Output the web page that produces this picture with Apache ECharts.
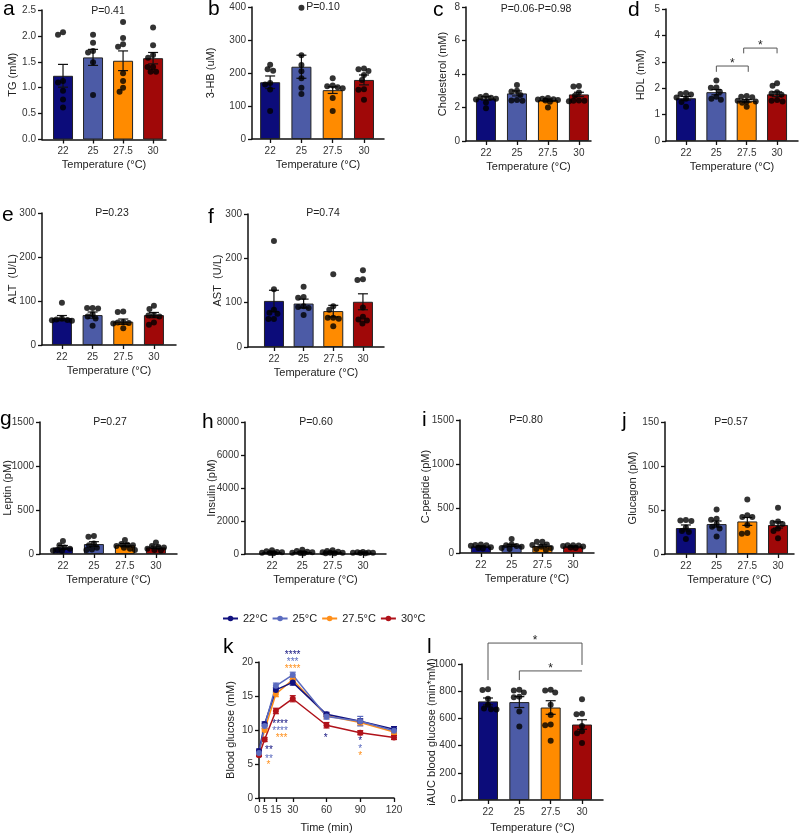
<!DOCTYPE html>
<html><head><meta charset="utf-8">
<script src="https://cdn.jsdelivr.net/npm/echarts@6/dist/echarts.min.js"></script>
<style>html,body{margin:0;padding:0;background:#fff}#c{width:799px;height:834px}</style>
</head><body><div id="c"></div>
<script>
// ---------- DATA ----------
const categories = ['22', '25', '27.5', '30'];
const seriesNames = ['22°C', '25°C', '27.5°C', '30°C'];

// a: TG (mM)
const tgMean = [1.23, 1.585, 1.52, 1.57];
const tgSem = [0.22, 0.155, 0.19, 0.11];
const tgPoints = [[2.07, 2.02, 1.13, 1.10, 0.94, 0.77, 0.62], [2.02, 1.87, 1.71, 1.68, 1.49, 0.86], [2.27, 1.96, 1.84, 1.79, 1.28, 1.13, 1.0, 0.92], [2.16, 1.82, 1.63, 1.58, 1.40, 1.40, 1.31, 1.31]];
// b: 3-HB (uM)
const hbMean = [172, 219, 148, 179];
const hbSem = [19, 35, 10, 15];
const hbPoints = [[225, 211, 207, 170, 165, 150, 85], [398, 254, 224, 205, 184, 155, 136], [184, 162, 160, 157, 154, 124, 85], [214, 211, 206, 194, 179, 151, 149, 119]];
// c: Cholesterol (mM)
const cholMean = [2.54, 2.84, 2.44, 2.78];
const cholSem = [0.1, 0.15, 0.07, 0.13];
const cholPoints = [[2.7, 2.62, 2.58, 2.52, 2.48, 2.3, 1.95], [3.34, 3.0, 2.95, 2.75, 2.45, 2.42, 2.4], [2.56, 2.52, 2.5, 2.48, 2.45, 2.42, 2.35, 2.0], [3.28, 3.26, 2.9, 2.7, 2.42, 2.4, 2.4, 2.38]];
// d: HDL (mM)
const hdlMean = [1.62, 1.85, 1.52, 1.77];
const hdlSem = [0.07, 0.1, 0.05, 0.09];
const hdlPoints = [[1.82, 1.78, 1.76, 1.65, 1.6, 1.48, 1.3], [2.29, 2.03, 2.02, 1.87, 1.68, 1.6, 1.56], [1.7, 1.68, 1.66, 1.52, 1.5, 1.5, 1.45, 1.3], [2.19, 2.09, 1.85, 1.8, 1.75, 1.55, 1.52, 1.5]];
const hdlBrackets = [[1, 2.05, 2.84, 2.62, 2.62], [1.9, 3, 3.52, 3.32, 3.32]];
// e: ALT (U/L)
const altMean = [61, 68, 53, 68];
const altSem = [6, 7, 6, 6];
const altPoints = [[96, 60, 58, 57, 56, 55], [84, 84, 83, 70, 65, 60, 44], [76, 75, 52, 51, 50, 49, 38], [89, 82, 68, 67, 65, 51, 46]];
// f: AST (U/L)
const astMean = [104, 98, 81, 102];
const astSem = [24, 10, 13, 18];
const astPoints = [[239, 130, 84, 77, 75, 63, 63], [136, 113, 111, 92, 90, 88, 72], [164, 92, 84, 66, 66, 64, 47], [173, 153, 151, 89, 68, 62, 60, 53]];
// g: Leptin (pM)
const leptinMean = [75, 113, 100, 75];
const leptinSem = [22, 27, 18, 14];
const leptinPoints = [[147, 100, 75, 60, 45, 40, 35], [204, 196, 120, 100, 70, 50, 45], [159, 115, 105, 100, 90, 70, 60, 45], [132, 90, 80, 75, 60, 45, 40]];
// h: Insulin (pM)
const insulinMean = [110, 120, 110, 80];
const insulinSem = [22, 28, 20, 10];
const insulinPoints = [[230, 160, 120, 100, 80, 60, 50], [260, 180, 130, 100, 80, 60, 40], [220, 180, 140, 100, 80, 70, 50, 40], [120, 100, 90, 80, 70, 60, 50]];
// i: C-peptide (pM)
const cpepMean = [75, 86, 80, 75];
const cpepSem = [6, 12, 12, 5];
const cpepPoints = [[95, 90, 86, 82, 65, 55, 50], [158, 95, 86, 78, 70, 55, 45], [128, 126, 95, 90, 70, 55, 45, 35], [88, 86, 84, 80, 72, 62, 55]];
// j: Glucagon (pM)
const glucagonMean = [29.5, 34, 37, 33];
const glucagonSem = [3.5, 3.5, 4.5, 3.5];
const glucagonPoints = [[38.5, 38, 37.5, 30, 26, 25, 17], [50.6, 40, 39, 34, 31, 29, 20], [62, 44, 42, 42, 33, 24, 23], [52.5, 37, 35.5, 34, 29, 26, 18]];
// k: glucose tolerance
const timePoints = [0, 5, 15, 30, 60, 90, 120];
const timeTicks = [0, 5, 15, 30, 60, 90, 120];
const glucose22 = [6.9, 10.9, 15.9, 17.0, 12.3, 11.3, 10.1];
const glucose25 = [6.6, 10.6, 16.5, 18.1, 12.0, 11.3, 9.9];
const glucose275 = [6.7, 10.0, 15.3, 17.4, 12.1, 11.1, 9.7];
const glucose30 = [6.3, 8.6, 12.8, 14.6, 10.7, 9.6, 8.9];
const glucoseSem22 = [0.3, 0.3, 0.35, 0.4, 0.3, 0.35, 0.4];
const glucoseSem25 = [0.25, 0.4, 0.4, 0.4, 0.4, 0.7, 0.4];
const glucoseSem275 = [0.3, 0.3, 0.4, 0.4, 0.35, 0.4, 0.35];
const glucoseSem30 = [0.2, 0.3, 0.4, 0.45, 0.4, 0.3, 0.3];
// significance stars: [time, glucose level, number of stars]
const stars22 = [[8.9, 7.3, 2], [18.7, 11.2, 4], [29.9, 21.3, 4], [59.3, 9.1, 1], [90, 8.6, 1]];
const stars25 = [[8.9, 6.05, 2], [18.7, 10.15, 4], [29.9, 20.3, 3], [90, 7.45, 1]];
const stars275 = [[8.3, 5.1, 1], [20.1, 9.1, 3], [29.9, 19.3, 4], [90, 6.4, 1]];
// l: iAUC
const iaucMean = [725, 720, 680, 555];
const iaucSem = [25, 40, 50, 35];
const iaucPoints = [[815, 808, 745, 700, 672, 668, 665], [810, 805, 790, 760, 755, 650, 540], [810, 805, 790, 700, 625, 555, 550, 435], [740, 635, 630, 545, 505, 490, 420]];
const iaucBrackets = [[0, 3, 1154, 882, 993], [1, 3, 949, 882, 949]];

// ---------- STYLE ----------
const FF = '"Liberation Sans", Arial, Helvetica, sans-serif';
const barColors = ['#0c0c7a', '#4c5ba6', '#ff8b00', '#a00808'];
const lineColors = ['#12127f', '#5b6bbf', '#ff8f1a', '#b0121a'];
const AX = '#111';
const TICK_FS = 10;

const grids = [], xAxes = [], yAxes = [], series = [], graphics = [];

// beeswarm-style horizontal spread of the dots (layout only)
function swarmOffsets(vals, pxPerX, pxPerY, d, maxS) {
  const placed = [], out = [];
  vals.forEach(v => {
    const py = v * pxPerY;
    let best = 0, bestScore = -1;
    const nSteps = Math.floor(maxS / 0.5);
    for (let k = 0; k <= 2 * nSteps; k++) {
      const cand = (k % 2 === 0 ? 1 : -1) * Math.ceil(k / 2) * 0.5;
      let minD = Infinity;
      for (const p of placed) {
        const dx = cand - p[0], dy = py - p[1];
        minD = Math.min(minD, Math.sqrt(dx * dx + dy * dy));
      }
      if (minD >= d) { best = cand; bestScore = Infinity; break; }
      if (minD > bestScore + 0.01) { bestScore = minD; best = cand; }
    }
    placed.push([best, py]);
    out.push(best / pxPerX);
  });
  return out;
}

function errRender(color, cap) {
  return function (params, api) {
    const x = api.value(0), m = api.value(1), e = api.value(2);
    const t = api.coord([x, m + e]), b = api.coord([x, m - e]);
    const st = { stroke: color, lineWidth: 1.2 };
    return { type: 'group', children: [
      { type: 'line', shape: { x1: t[0], y1: t[1], x2: b[0], y2: b[1] }, style: st },
      { type: 'line', shape: { x1: t[0] - cap, y1: t[1], x2: t[0] + cap, y2: t[1] }, style: st },
      { type: 'line', shape: { x1: b[0] - cap, y1: b[1], x2: b[0] + cap, y2: b[1] }, style: st }
    ] };
  };
}

function bracketRender(params, api) {
  const x1 = api.value(0), x2 = api.value(1), y = api.value(2), l1 = api.value(3), l2 = api.value(4);
  const a = api.coord([x1, l1]), b = api.coord([x1, y]), c = api.coord([x2, y]), d = api.coord([x2, l2]);
  return { type: 'group', children: [
    { type: 'polyline', shape: { points: [a, b, c, d] }, style: { stroke: '#555', lineWidth: 1, fill: 'none' } },
    { type: 'text', style: { text: '*', x: (b[0] + c[0]) / 2, y: b[1] + 4, align: 'center', verticalAlign: 'bottom', font: '12px ' + FF, fill: '#222' } }
  ] };
}

function starRender(color) {
  return function (params, api) {
    const p = api.coord([api.value(0), api.value(1)]);
    const n = api.value(2);
    return { type: 'text', style: { text: '*'.repeat(n), x: p[0], y: p[1] + 2, align: 'center', verticalAlign: 'middle', font: '10px ' + FF, fill: color } };
  };
}

function axisCommon() {
  return {
    axisLine: { show: true, onZero: false, lineStyle: { color: AX, width: 1.5 } },
    axisTick: { show: true, length: 4, lineStyle: { color: AX, width: 1.3 } },
    splitLine: { show: false },
    nameMoveOverlap: false,
    nameTextStyle: { fontSize: 11, color: '#222', fontFamily: FF }
  };
}

function addGrid(L) {
  grids.push({ left: L.left, top: L.top, width: L.width, height: L.height, containLabel: false, outerBoundsMode: 'none' });
  return grids.length - 1;
}

function addBarPanel(L, p) {
  const gi = addGrid(L);
  xAxes.push(Object.assign(axisCommon(), {
    gridIndex: gi, type: 'value', min: L.xmin, max: L.xmax,
    axisTick: { show: true, customValues: [0, 1, 2, 3], length: 4, lineStyle: { color: AX, width: 1.3 } },
    axisLabel: { customValues: [0, 1, 2, 3], formatter: v => categories[Math.round(v)], margin: L.xLabelMargin || 7, fontSize: TICK_FS, color: '#333', fontFamily: FF, hideOverlap: false },
    name: 'Temperature (°C)', nameLocation: 'middle', nameGap: L.xNameGap || 20
  }));
  yAxes.push(Object.assign(axisCommon(), {
    gridIndex: gi, type: 'value', min: 0, max: p.ymax, interval: p.yint,
    axisLabel: { formatter: v => v.toFixed(p.ydec || 0), margin: 6, fontSize: TICK_FS, color: '#333', fontFamily: FF, showMinLabel: true, showMaxLabel: true },
    name: p.yname, nameLocation: 'middle', nameGap: L.yNameGap, nameRotate: 90
  }));
  series.push({
    type: 'bar', xAxisIndex: gi, yAxisIndex: gi, barWidth: 20, silent: true, z: 2,
    itemStyle: { borderColor: '#222', borderWidth: 1 },
    data: p.means.map((m, i) => ({ value: [i, m], itemStyle: { color: barColors[i] } }))
  });
  series.push({
    type: 'custom', xAxisIndex: gi, yAxisIndex: gi, z: 3, silent: true,
    renderItem: errRender('#111', 5), encode: { x: 0, y: 1 },
    data: p.means.map((m, i) => [i, m, p.sem[i]])
  });
  const pxX = L.width / (L.xmax - L.xmin), pxY = L.height / p.ymax;
  const dotData = [];
  p.points.forEach((arr, i) => {
    const off = swarmOffsets(arr, pxX, pxY, 5.2, 10);
    arr.forEach((v, j) => dotData.push([i + off[j], v]));
  });
  series.push({
    type: 'scatter', xAxisIndex: gi, yAxisIndex: gi, z: 4, silent: true, clip: false,
    symbol: 'circle', symbolSize: 6, itemStyle: { color: '#000' }, data: dotData
  });
  if (p.brackets) {
    series.push({
      type: 'custom', xAxisIndex: gi, yAxisIndex: gi, z: 5, silent: true, clip: false,
      renderItem: bracketRender, encode: { x: 0, y: 2 }, data: p.brackets
    });
  }
  return gi;
}

addBarPanel({ left: 42, top: 10, width: 124, height: 129.5, xmin: -0.7, xmax: 3.43, yNameGap: 24 },
  { means: tgMean, sem: tgSem, points: tgPoints, ymax: 2.5, yint: 0.5, ydec: 1, yname: 'TG (mM)' });
addBarPanel({ left: 252, top: 7, width: 132, height: 132, xmin: -0.58, xmax: 3.64, yNameGap: 36 },
  { means: hbMean, sem: hbSem, points: hbPoints, ymax: 400, yint: 100, yname: '3-HB (uM)' });
addBarPanel({ left: 466, top: 7, width: 125, height: 134, xmin: -0.645, xmax: 3.39, yNameGap: 18 },
  { means: cholMean, sem: cholSem, points: cholPoints, ymax: 8, yint: 2, yname: 'Cholesterol (mM)' });
addBarPanel({ left: 666, top: 9, width: 132, height: 132, xmin: -0.66, xmax: 3.69, yNameGap: 20 },
  { means: hdlMean, sem: hdlSem, points: hdlPoints, ymax: 5, yint: 1, yname: 'HDL (mM)', brackets: hdlBrackets });
addBarPanel({ left: 42, top: 213, width: 134, height: 132, xmin: -0.65, xmax: 3.72, yNameGap: 24 },
  { means: altMean, sem: altSem, points: altPoints, ymax: 300, yint: 100, yname: 'ALT  (U/L)' });
addBarPanel({ left: 248, top: 214, width: 136, height: 133, xmin: -0.875, xmax: 3.71, yNameGap: 25 },
  { means: astMean, sem: astSem, points: astPoints, ymax: 300, yint: 100, yname: 'AST  (U/L)' });
addBarPanel({ left: 40, top: 422, width: 137, height: 132, xmin: -0.74, xmax: 3.68, yNameGap: 27 },
  { means: leptinMean, sem: leptinSem, points: leptinPoints, ymax: 1500, yint: 500, yname: 'Leptin (pM)' });
addBarPanel({ left: 245, top: 422, width: 141, height: 132, xmin: -0.89, xmax: 3.76, yNameGap: 28 },
  { means: insulinMean, sem: insulinSem, points: insulinPoints, ymax: 8000, yint: 2000, yname: 'Insulin (pM)' });
addBarPanel({ left: 460, top: 420, width: 134, height: 133, xmin: -0.68, xmax: 3.68, yNameGap: 29 },
  { means: cpepMean, sem: cpepSem, points: cpepPoints, ymax: 1500, yint: 500, yname: 'C-peptide (pM)' });
addBarPanel({ left: 665, top: 422, width: 129, height: 132, xmin: -0.68, xmax: 3.52, yNameGap: 27 },
  { means: glucagonMean, sem: glucagonSem, points: glucagonPoints, ymax: 150, yint: 50, yname: 'Glucagon (pM)' });
addBarPanel({ left: 462, top: 664, width: 141, height: 136, xmin: -0.83, xmax: 3.67, yNameGap: 25, xNameGap: 22, xLabelMargin: 7 },
  { means: iaucMean, sem: iaucSem, points: iaucPoints, ymax: 1000, yint: 200, yname: 'iAUC blood glucose (min*mM)', brackets: iaucBrackets });

// ---------- panel k ----------
const kg = addGrid({ left: 259, top: 662, width: 135, height: 136 });
xAxes.push(Object.assign(axisCommon(), {
  gridIndex: kg, type: 'value', min: 0, max: 120,
  axisTick: { show: true, customValues: timeTicks, length: 4, lineStyle: { color: AX, width: 1.3 } },
  axisLabel: {
    customValues: timeTicks, margin: 7, fontSize: TICK_FS, color: '#333', fontFamily: FF, showMinLabel: true, hideOverlap: false,
    formatter: v => v === 0 ? '{l|0}' : (v === 5 ? '{r|5}' : String(v)),
    rich: { l: { padding: [0, 4, 0, 0], fontSize: TICK_FS, color: '#333', fontFamily: FF }, r: { padding: [0, 0, 0, 1], fontSize: TICK_FS, color: '#333', fontFamily: FF } }
  },
  name: 'Time (min)', nameLocation: 'middle', nameGap: 24
}));
yAxes.push(Object.assign(axisCommon(), {
  gridIndex: kg, type: 'value', min: 0, max: 20, interval: 5,
  axisLabel: { margin: 6, fontSize: TICK_FS, color: '#333', fontFamily: FF, showMinLabel: true },
  name: 'Blood glucose (mM)', nameLocation: 'middle', nameGap: 23, nameRotate: 90
}));
const glucoseSeries = [glucose22, glucose25, glucose275, glucose30];
const glucoseSems = [glucoseSem22, glucoseSem25, glucoseSem275, glucoseSem30];
[3, 2, 0, 1].forEach(si => {
  series.push({
    type: 'custom', xAxisIndex: kg, yAxisIndex: kg, z: 3, silent: true,
    renderItem: errRender(lineColors[si], 3), encode: { x: 0, y: 1 },
    data: timePoints.map((t, i) => [t, glucoseSeries[si][i], glucoseSems[si][i]])
  });
  series.push({
    type: 'line', name: seriesNames[si], xAxisIndex: kg, yAxisIndex: kg, z: 4, silent: true,
    symbol: 'circle', symbolSize: 6, color: lineColors[si],
    lineStyle: { width: 1.5, color: lineColors[si] }, itemStyle: { color: lineColors[si] },
    data: timePoints.map((t, i) => [t, glucoseSeries[si][i]])
  });
});
[[stars22, 0], [stars25, 1], [stars275, 2]].forEach(([arr, ci]) => {
  series.push({
    type: 'custom', xAxisIndex: kg, yAxisIndex: kg, z: 6, silent: true, clip: false,
    renderItem: starRender(lineColors[ci]), encode: { x: 0, y: 1 }, data: arr
  });
});

// ---------- texts ----------
function txt(text, x, y, size, align, color) {
  graphics.push({ type: 'text', x: x, y: y, silent: true,
    style: { text: text, font: size + 'px ' + FF, fill: color || '#111', align: align || 'left', verticalAlign: 'middle' } });
}
const letters = [['a', 3, 9.7], ['b', 208, 9.7], ['c', 433, 10.7], ['d', 628, 10.7], ['e', 2, 215.7], ['f', 208, 217.7],
  ['g', 0, 419.7], ['h', 202, 422.7], ['i', 422, 420.7], ['j', 622, 421.7], ['k', 223, 647.7], ['l', 427, 647.7]];
letters.forEach(l => txt(l[0], l[1], l[2], 21, 'left', '#000'));
const pTexts = [['P=0.41', 108, 11], ['P=0.10', 323, 7], ['P=0.06-P=0.98', 536, 9.5], ['P=0.23', 112, 213.5], ['P=0.74', 323, 213.5],
  ['P=0.27', 110, 422], ['P=0.60', 316, 422], ['P=0.80', 526, 420.5], ['P=0.57', 731, 422]];
pTexts.forEach(p => txt(p[0], p[1], p[2], 10.5, 'center', '#222'));

const chart = echarts.init(document.getElementById('c'), null, { renderer: 'canvas' });
chart.setOption({
  animation: false,
  backgroundColor: '#fff',
  textStyle: { fontFamily: FF },
  legend: {
    data: seriesNames, left: 222, top: 613, padding: 0, itemGap: 4, itemWidth: 15, itemHeight: 7,
    textStyle: { fontSize: 11, color: '#222', fontFamily: FF }, selectedMode: false
  },
  grid: grids, xAxis: xAxes, yAxis: yAxes, series: series, graphic: graphics
});
</script></body></html>
